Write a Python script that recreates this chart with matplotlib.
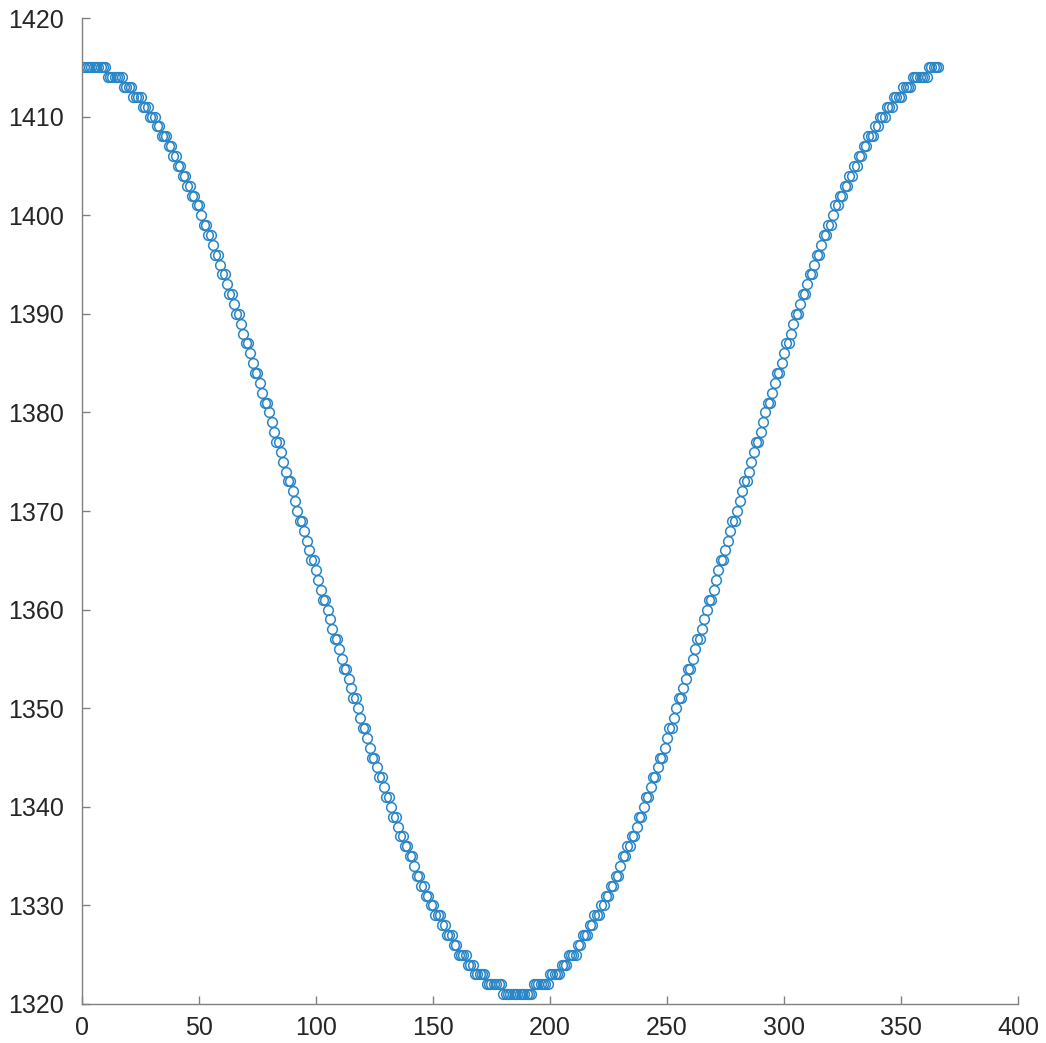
import matplotlib
matplotlib.use("Agg")
import matplotlib.pyplot as plt

# Valori (cate o valoare pentru fiecare zi, 1..366).

values = [
    1415, 1415, 1415, 1415, 1415, 1415, 1415, 1415, 1415, 1415,
    1414, 1414, 1414, 1414, 1414, 1414, 1414, 1413, 1413, 1413,
    1413, 1412, 1412, 1412, 1412, 1411, 1411, 1411, 1410, 1410,
    1410, 1409, 1409, 1408, 1408, 1408, 1407, 1407, 1406, 1406,
    1405, 1405, 1404, 1404, 1403, 1403, 1402, 1402, 1401, 1401,
    1400, 1399, 1399, 1398, 1398, 1397, 1396, 1396, 1395, 1394,
    1394, 1393, 1392, 1392, 1391, 1390, 1390, 1389, 1388, 1387,
    1387, 1386, 1385, 1384, 1384, 1383, 1382, 1381, 1381, 1380,
    1379, 1378, 1377, 1377, 1376, 1375, 1374, 1373, 1373, 1372,
    1371, 1370, 1369, 1369, 1368, 1367, 1366, 1365, 1365, 1364,
    1363, 1362, 1361, 1361, 1360, 1359, 1358, 1357, 1357, 1356,
    1355, 1354, 1354, 1353, 1352, 1351, 1351, 1350, 1349, 1348,
    1348, 1347, 1346, 1345, 1345, 1344, 1343, 1343, 1342, 1341,
    1341, 1340, 1339, 1339, 1338, 1337, 1337, 1336, 1336, 1335,
    1335, 1334, 1333, 1333, 1332, 1332, 1331, 1331, 1330, 1330,
    1329, 1329, 1329, 1328, 1328, 1327, 1327, 1327, 1326, 1326,
    1325, 1325, 1325, 1325, 1324, 1324, 1324, 1323, 1323, 1323,
    1323, 1323, 1322, 1322, 1322, 1322, 1322, 1322, 1322, 1321,
    1321, 1321, 1321, 1321, 1321, 1321, 1321, 1321, 1321, 1321,
    1321, 1321, 1322, 1322, 1322, 1322, 1322, 1322, 1322, 1323,
    1323, 1323, 1323, 1323, 1324, 1324, 1324, 1325, 1325, 1325,
    1325, 1326, 1326, 1327, 1327, 1327, 1328, 1328, 1329, 1329,
    1329, 1330, 1330, 1331, 1331, 1332, 1332, 1333, 1333, 1334,
    1335, 1335, 1336, 1336, 1337, 1337, 1338, 1339, 1339, 1340,
    1341, 1341, 1342, 1343, 1343, 1344, 1345, 1345, 1346, 1347,
    1348, 1348, 1349, 1350, 1351, 1351, 1352, 1353, 1354, 1354,
    1355, 1356, 1357, 1357, 1358, 1359, 1360, 1361, 1361, 1362,
    1363, 1364, 1365, 1365, 1366, 1367, 1368, 1369, 1369, 1370,
    1371, 1372, 1373, 1373, 1374, 1375, 1376, 1377, 1377, 1378,
    1379, 1380, 1381, 1381, 1382, 1383, 1384, 1384, 1385, 1386,
    1387, 1387, 1388, 1389, 1390, 1390, 1391, 1392, 1392, 1393,
    1394, 1394, 1395, 1396, 1396, 1397, 1398, 1398, 1399, 1399,
    1400, 1401, 1401, 1402, 1402, 1403, 1403, 1404, 1404, 1405,
    1405, 1406, 1406, 1407, 1407, 1408, 1408, 1408, 1409, 1409,
    1410, 1410, 1410, 1411, 1411, 1411, 1412, 1412, 1412, 1412,
    1413, 1413, 1413, 1413, 1414, 1414, 1414, 1414, 1414, 1414,
    1414, 1415, 1415, 1415, 1415, 1415,
]
days = list(range(1, len(values) + 1))

x_ticks = [0, 50, 100, 150, 200, 250, 300, 350, 400]
y_ticks = [1320, 1330, 1340, 1350, 1360, 1370, 1380, 1390, 1400, 1410, 1420]

plt.rcParams['font.family'] = ['Liberation Sans', 'DejaVu Sans']

fig = plt.figure(figsize=(10.46, 10.43), dpi=100)
ax = fig.add_axes([0.0784, 0.0374, 0.8948, 0.9453])

ax.plot(days, values, linestyle='none', marker='o', markersize=7,
        markerfacecolor='none', markeredgecolor='#2a86c6', markeredgewidth=1.1)

ax.set_xlim(0, 400)
ax.set_ylim(1320, 1420)
ax.set_xticks(x_ticks)
ax.set_yticks(y_ticks)

for side in ['top', 'right']:
    ax.spines[side].set_visible(False)
for side in ['left', 'bottom']:
    ax.spines[side].set_color('#808080')
    ax.spines[side].set_linewidth(1.0)

ax.tick_params(direction='in', length=6, width=1.0, color='#808080',
               labelcolor='#262626', labelsize=18)
ax.tick_params(axis='y', pad=13)
ax.tick_params(axis='x', pad=9)

fig.savefig('out.png', dpi=100)
